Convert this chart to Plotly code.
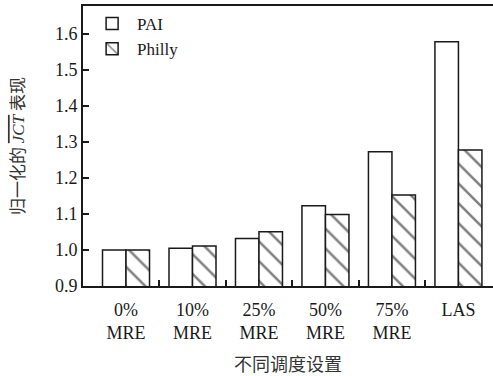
import plotly.graph_objects as go

categories = ["0%<br>MRE", "10%<br>MRE", "25%<br>MRE", "50%<br>MRE", "75%<br>MRE", "LAS"]
pai = [1.000, 1.005, 1.032, 1.123, 1.273, 1.579]
philly = [1.000, 1.011, 1.051, 1.099, 1.153, 1.278]
yticks = [0.9, 1.0, 1.1, 1.2, 1.3, 1.4, 1.5, 1.6]

xpos = list(range(len(categories)))
serif = "Liberation Serif, Times New Roman, serif"
cjk = "Noto Sans CJK SC"

fig = go.Figure()
fig.add_trace(go.Bar(
    x=xpos, y=pai, name="PAI",
    marker=dict(color="white", line=dict(color="#1a1a1a", width=1.5)),
))
fig.add_trace(go.Bar(
    x=xpos, y=philly, name="Philly",
    marker=dict(color="white", line=dict(color="#1a1a1a", width=1.5),
                pattern=dict(shape="\\", size=14, solidity=0.18,
                             fgcolor="#000000", bgcolor="white")),
))

fig.update_layout(
    width=493, height=376,
    margin=dict(l=83, r=0, t=6, b=90),
    paper_bgcolor="white", plot_bgcolor="white",
    barmode="group", bargap=0.293, bargroupgap=0,
    font=dict(family=serif, size=18, color="#1a1a1a"),
    showlegend=True,
    legend=dict(x=0.01, y=1.0, xanchor="left", yanchor="top",
                bgcolor="rgba(0,0,0,0)", font=dict(family=serif, size=17),
                itemwidth=40, tracegroupgap=0),
    xaxis=dict(
        range=[-0.647, 5.52], tickmode="array", tickvals=xpos, ticktext=categories,
        ticks="", showgrid=False, zeroline=False,
        showline=True, linecolor="#1a1a1a", linewidth=2, mirror=True,
        tickfont=dict(family=serif, size=18), ticklabelstandoff=6,
        minor=dict(tickvals=[0.5, 1.5, 2.5, 3.5, 4.5], ticks="inside",
                   ticklen=6, tickwidth=1.5, tickcolor="#1a1a1a", showgrid=False),
        title=dict(text="不同调度设置", font=dict(family=cjk, size=18, color="#333333"), standoff=16),
    ),
    yaxis=dict(
        range=[0.9, 1.678], tickmode="array", tickvals=yticks,
        ticktext=[f"{v:.1f}" for v in yticks],
        ticks="inside", ticklen=6, tickwidth=1.5, tickcolor="#1a1a1a",
        showgrid=False, zeroline=False,
        showline=True, linecolor="#1a1a1a", linewidth=2,
        tickfont=dict(family=serif, size=18),
        title=dict(text="归一化的 <span style=\"text-decoration:overline;font-family:Liberation Serif\"><i>JCT</i></span> 表现",
                   font=dict(family=cjk, size=17, color="#333333"), standoff=26),
    ),
)

fig.write_html("out.html", config={"displayModeBar": False},
               post_script="document.body.style.margin='0';")
